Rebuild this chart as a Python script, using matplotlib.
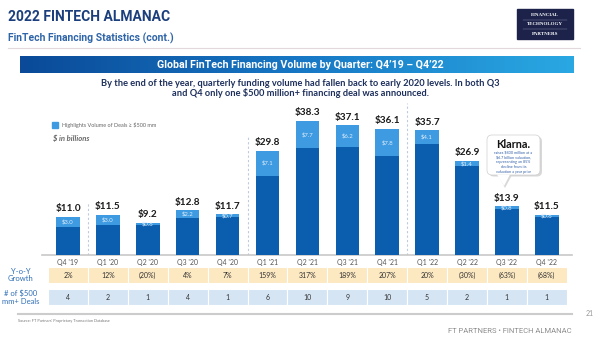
import matplotlib
matplotlib.use("Agg")
import matplotlib.pyplot as plt
import numpy as np
from matplotlib.patches import Rectangle, FancyBboxPatch, Polygon
from matplotlib.transforms import blended_transform_factory

# data
quarters = ["Q4 '19", "Q1 '20", "Q2 '20", "Q3 '20", "Q4 '20", "Q1 '21", "Q2 '21",
            "Q3 '21", "Q4 '21", "Q1 '22", "Q2 '22", "Q3 '22", "Q4 '22"]
total_volume = [11.0, 11.5, 9.2, 12.8, 11.7, 29.8, 38.3, 37.1, 36.1, 35.7, 26.9, 13.9, 11.5]
large_deal_volume = [3.0, 3.0, 0.6, 2.2, 0.7, 7.1, 7.7, 6.2, 7.8, 4.1, 1.4, 0.8, 0.6]
yoy_growth = ["2%", "12%", "(20%)", "4%", "7%", "159%", "317%", "189%", "207%",
              "20%", "(30%)", "(63%)", "(68%)"]
large_deal_count = [4, 2, 1, 4, 1, 6, 10, 9, 10, 5, 2, 1, 1]
separator_pos = [0.5, 4.5, 8.5]
separator_top = [14.9, 33.7, 43.5]

DARK = "#0B5DAE"
LIGHT = "#3E9BE1"
NAVY = "#1B3F7C"
ROWBLUE = "#2F6FB7"
GREY = "#666666"

fig = plt.figure(figsize=(6, 3.37), dpi=100)
fig.patch.set_facecolor("white")

# overlay in pixel coords for the slide decoration
ov = fig.add_axes([0, 0, 1, 1])
ov.axis("off")

# header
ov.text(8, 17, "2022 FINTECH ALMANAC", fontsize=10, fontweight="bold", color=NAVY,
        family="Roboto", va="center")
ov.text(8, 38, "FinTech Financing Statistics (cont.)", fontsize=7.5, fontweight="bold",
        color="#2F65A8", family="Roboto", va="center")
ov.add_patch(Rectangle((517, 9), 56, 30, color="#1C2249"))
for yy, word in zip([14.5, 24, 34], ["FINANCIAL", "TECHNOLOGY", "PARTNERS"]):
    ov.text(545, yy, word, fontsize=3.6, color="white", family="Liberation Serif",
            ha="center", va="center", fontweight="bold")
ov.plot([523, 567], [19.5, 19.5], color="#8890B0", lw=0.3)
ov.plot([523, 567], [29, 29], color="#8890B0", lw=0.3)
ov.plot([8, 580], [48, 48], color="#E2D9DC", lw=0.8)

# gradient banner
grad = np.linspace(0, 1, 256).reshape(1, -1)
cmap = matplotlib.colors.LinearSegmentedColormap.from_list("b", ["#0A4A98", "#1777C4", "#2AA8E3"])
ov.imshow(grad, extent=[20, 574, 73, 56], aspect="auto", cmap=cmap, zorder=1)
ov.set_xlim(0, 600)
ov.set_ylim(337, 0)
ov.text(300, 64.5, "Global FinTech Financing Volume by Quarter: Q4\u201919 \u2013 Q4\u201922",
        fontsize=7.7, color="white", fontweight="bold", family="Roboto",
        ha="center", va="center", zorder=2)
ov.text(300, 83, "By the end of the year, quarterly funding volume had fallen back to early 2020 levels. In both Q3",
        fontsize=6.7, color="#1D2F5C", fontweight="bold", family="Lato", ha="center", va="center")
ov.text(300, 93.5, "and Q4 only one $500 million+ financing deal was announced.",
        fontsize=6.7, color="#1D2F5C", fontweight="bold", family="Lato", ha="center", va="center")

# legend and unit note
ov.add_patch(Rectangle((52, 122), 6, 6, color=LIGHT))
ov.text(62, 125, "Highlights Volume of Deals \u2265 $500 mm", fontsize=4, color=GREY,
        family="Lato", va="center")
ov.text(53, 138, "$ in billions", fontsize=5.5, color=GREY, style="italic",
        fontweight="bold", family="Lato", va="center")

# bar chart axes
px0, px_step = 68, 39.9
left_px, right_px, base_px, top_px = 42, 572, 255, 100
ax = fig.add_axes([left_px / 600, (337 - base_px) / 337,
                   (right_px - left_px) / 600, (base_px - top_px) / 337])
ax.patch.set_visible(False)
ax.set_xlim((left_px - px0) / px_step, (right_px - px0) / px_step)
ax.set_ylim(0, (base_px - top_px) / 3.5)

x = np.arange(len(quarters))
total = np.array(total_volume)
large = np.array(large_deal_volume)
ax.bar(x, total - large, width=0.59, color=DARK, zorder=3)
ax.bar(x, large, bottom=total - large, width=0.59, color=LIGHT, zorder=3)
for xi, t, l in zip(x, total, large):
    ax.annotate(f"${t:.1f}", (xi, t), xytext=(0, 2.5), textcoords="offset points",
                ha="center", va="bottom", fontsize=7.2, fontweight="bold",
                color="#1A1A1A", family="Lato", zorder=4)
    ax.text(xi, t - l / 2, f"${l:.1f}", ha="center", va="center", fontsize=4.3,
            color="#DCEBFA", family="Lato", zorder=4)

ax.vlines(separator_pos, 0, separator_top, colors="#BCCBDD", lw=0.8,
          linestyles=(0, (2, 2)), zorder=1)

for s in ["top", "right", "left"]:
    ax.spines[s].set_visible(False)
ax.spines["bottom"].set_color("#C8C8C8")
ax.spines["bottom"].set_linewidth(1.2)
ax.set_yticks([])
ax.set_xticks(x, quarters)
ax.tick_params(axis="x", length=0, pad=3, labelsize=5, labelcolor="#555555")
for lab in ax.get_xticklabels():
    lab.set_family("Lato")

# Klarna callout
ov.add_patch(FancyBboxPatch((489, 136.5), 53, 40, boxstyle="round,pad=0,rounding_size=5",
                            fc="#D8D8D8", ec="none", zorder=3))
ov.add_patch(Polygon([[498, 175], [512, 175], [505, 188]], closed=True, fc="#D8D8D8",
                     ec="none", zorder=3))
ov.add_patch(FancyBboxPatch((487, 135), 53, 40, boxstyle="round,pad=0,rounding_size=5",
                            fc="white", ec="#CFCFCF", lw=0.5, zorder=4))
ov.add_patch(Polygon([[497, 174.5], [510, 174.5], [504, 186]], closed=True, fc="white",
                     ec="none", zorder=4))
ov.text(513.5, 144, "Klarna.", fontsize=7.8, fontweight="bold", color="#111111",
        family="Lato", ha="center", va="center", zorder=5)
ov.text(513.5, 162, "raises $800 million at a\n$6.7 billion valuation,\nrepresenting an 85%\n"
        "decline from its\nvaluation a year prior", fontsize=2.7, color="#2F5FA8",
        family="Lato", ha="center", va="center", linespacing=1.25, zorder=5)

# table rows under the axis
tr = blended_transform_factory(ax.transData, ov.transData)
rows = [(267, 283, "#FCE8C1", yoy_growth, "Y-o-Y\nGrowth"),
        (289, 305, "#D5E5F4", [str(v) for v in large_deal_count], "# of $500\nmm+ Deals")]
for y0, y1, col, vals, label in rows:
    for xi, v in zip(x, vals):
        ov.add_patch(Rectangle((xi - 0.5, y0), 1, y1 - y0, transform=tr, fc=col,
                               ec="white", lw=0.8, zorder=2))
        ov.text(xi, (y0 + y1) / 2, v, transform=tr, ha="center", va="center",
                fontsize=5, color="#333333", family="Lato", zorder=3)
    ov.text(21, (y0 + y1) / 2, label, ha="center", va="center", fontsize=5.5,
            color=ROWBLUE, family="Lato", linespacing=1.1)

# footer
ov.plot([18, 572], [314, 314], color="#CCCCCC", lw=1.5)
ov.text(590, 314, "21", fontsize=5, color="#999999", family="Lato", ha="center", va="center")
ov.text(18, 321, "Source: FT Partners' Proprietary Transaction Database", fontsize=2.8,
        color="#777777", family="Lato", va="center")
ov.text(572, 331, "FT PARTNERS \u2022 FINTECH ALMANAC", fontsize=5.5, color="#8C8C8C",
        family="Roboto", ha="right", va="center")

fig.savefig("out.png", dpi=100)
